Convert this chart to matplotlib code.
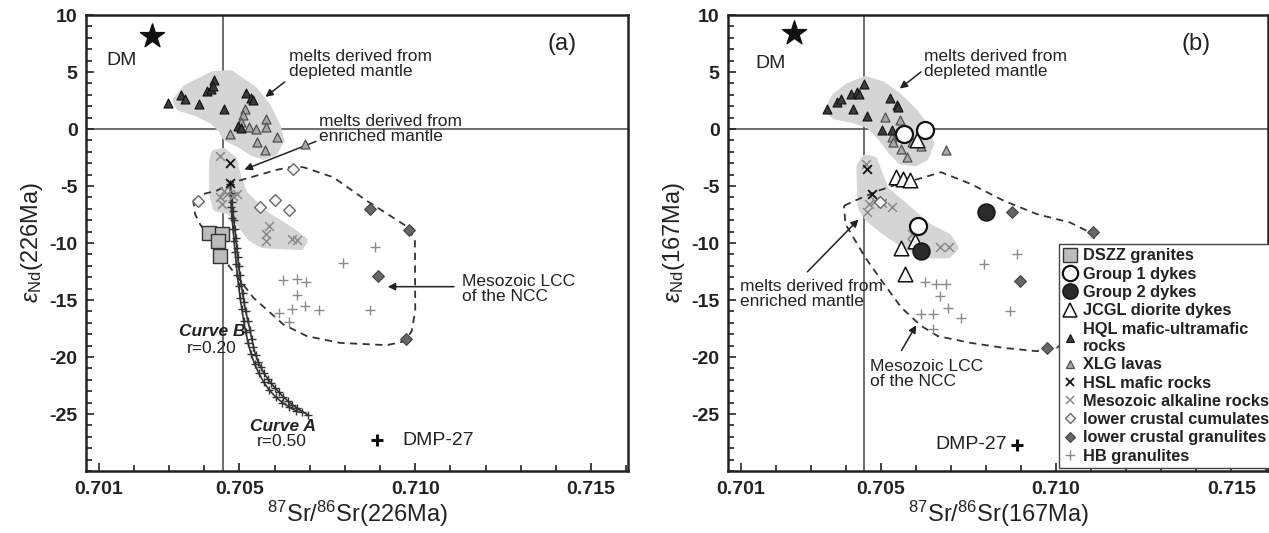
import numpy as np
import matplotlib.pyplot as plt
from matplotlib.patches import Polygon
from matplotlib.lines import Line2D
from matplotlib.ticker import MultipleLocator, FixedLocator, FormatStrFormatter

plt.rcParams['font.family'] = ['Liberation Sans', 'DejaVu Sans']
plt.rcParams['mathtext.fontset'] = 'custom'
plt.rcParams['mathtext.rm'] = 'Liberation Sans'
plt.rcParams['mathtext.it'] = 'Liberation Sans:italic'
plt.rcParams['mathtext.bf'] = 'Liberation Sans:bold'
plt.rcParams['axes.unicode_minus'] = False

# ---------------- panel (a): 226 Ma ----------------
a_dm = (0.70251, 8.15)
a_hql_x = [0.70298, 0.70334, 0.70346, 0.70386, 0.70407, 0.70419, 0.70429, 0.70424,
           0.70456, 0.70518, 0.70532, 0.70540, 0.70497, 0.70504]
a_hql_y = [2.28, 2.96, 2.60, 2.17, 3.34, 3.55, 4.28, 3.80,
           1.73, 3.20, 2.76, 2.58, 0.23, 0.08]
a_xlg_x = [0.70516, 0.70510, 0.70504, 0.70526, 0.70548, 0.70575, 0.70575, 0.70474,
           0.70550, 0.70573, 0.70606, 0.70687]
a_xlg_y = [1.79, 1.20, 0.60, 0.17, 0.03, 0.85, 0.17, -0.41,
           -1.15, -1.88, -0.71, -1.29]
a_hsl_x = [0.70472, 0.70474]
a_hsl_y = [-3.0, -4.76]
a_alk_x = [0.70446, 0.70455, 0.70445, 0.70450, 0.70464, 0.70483, 0.70493,
           0.70583, 0.70576, 0.70576, 0.70649, 0.70663]
a_alk_y = [-2.41, -5.40, -6.00, -6.58, -5.70, -5.85, -5.70,
           -8.49, -9.22, -9.80, -9.66, -9.74]
a_cum_x = [0.70652, 0.70381, 0.70559, 0.70602, 0.70641]
a_cum_y = [-3.50, -6.29, -6.87, -6.20, -7.08]
a_gra_x = [0.70870, 0.70981, 0.70894, 0.70974]
a_gra_y = [-7.02, -8.87, -12.89, -18.46]
a_hb_x = [0.70886, 0.70796, 0.70623, 0.70663, 0.70690, 0.70665, 0.70649, 0.70687,
          0.70725, 0.70614, 0.70642, 0.70870]
a_hb_y = [-10.33, -11.71, -13.27, -13.18, -13.39, -14.56, -15.82, -15.53,
          -15.88, -16.12, -16.91, -15.91]
a_dszz_x = [0.70415, 0.70450, 0.70440, 0.70445]
a_dszz_y = [-9.13, -9.22, -9.81, -11.13]
a_dmp = (0.70891, -27.32)

# mixing curves
curveA_x = [0.70474, 0.70476, 0.70478, 0.70481, 0.70484, 0.70487, 0.70490, 0.70493,
            0.70495, 0.70498, 0.70501, 0.70505, 0.70509, 0.70513, 0.70518, 0.70524,
            0.70530, 0.70535, 0.70540, 0.70546, 0.70553, 0.70561, 0.70570, 0.70580,
            0.70590, 0.70601, 0.70613, 0.70625, 0.70638, 0.70651, 0.70665, 0.70679,
            0.70694]
curveA_y = [-4.8, -5.6, -6.4, -7.2, -8.0, -8.8, -9.6, -10.4,
            -11.2, -12.0, -12.8, -13.6, -14.4, -15.2, -16.0, -16.8,
            -17.6, -18.4, -19.1, -19.8, -20.4, -20.9, -21.4, -21.9,
            -22.3, -22.7, -23.1, -23.5, -23.85, -24.2, -24.5, -24.78,
            -25.05]
curveB_x = [0.70474, 0.70475, 0.70477, 0.70479, 0.70482, 0.70485, 0.70488, 0.70491,
            0.70494, 0.70498, 0.70502, 0.70507, 0.70512, 0.70518, 0.70525, 0.70533,
            0.70543, 0.70555, 0.70569, 0.70585, 0.70603, 0.70622, 0.70642, 0.70662]
curveB_y = [-4.8, -5.8, -6.8, -7.8, -8.8, -9.8, -10.8, -11.8,
            -12.8, -13.8, -14.8, -15.8, -16.8, -17.8, -18.8, -19.7,
            -20.6, -21.4, -22.2, -22.9, -23.5, -24.0, -24.4, -24.75]

# field outlines
a_dep_x = [0.70322, 0.70350, 0.70426, 0.70474, 0.70540, 0.70578, 0.70606, 0.70616,
           0.70597, 0.70568, 0.70540, 0.70502, 0.70464, 0.70450, 0.70426, 0.70379, 0.70331]
a_dep_y = [2.52, 3.55, 4.72, 4.80, 3.40, 1.93, 0.17, -1.00,
           -2.03, -2.32, -2.03, -1.29, -0.71, 0.03, 0.76, 1.49, 1.93]
a_enr_x = [0.70431, 0.70454, 0.70483, 0.70493, 0.70511, 0.70568, 0.70644, 0.70682,
           0.70673, 0.70568, 0.70535, 0.70502, 0.70474, 0.70436, 0.70426, 0.70426]
a_enr_y = [-2.17, -2.03, -2.76, -4.23, -5.70, -7.46, -8.93, -9.81,
           -10.25, -10.10, -9.52, -8.20, -7.17, -6.87, -5.70, -2.76]
a_lcc_x = [0.70369, 0.70398, 0.70436, 0.70483, 0.70550, 0.70606, 0.70652, 0.70682,
           0.70767, 0.70862, 0.70981, 0.70999, 0.71000, 0.70990, 0.70971, 0.70919,
           0.70786, 0.70692, 0.70625, 0.70540, 0.70474, 0.70431, 0.70388, 0.70374, 0.70369]
a_lcc_y = [-6.29, -5.70, -5.40, -4.67, -4.08, -3.58, -3.29, -3.35,
           -4.23, -6.29, -8.64, -9.80, -15.97, -17.73, -18.61, -18.96,
           -18.76, -18.17, -17.14, -14.80, -12.16, -10.25, -8.34, -7.46, -6.29]

# ---------------- panel (b): 167 Ma ----------------
b_dm = (0.70253, 8.39)
b_hql_x = [0.70347, 0.70376, 0.70385, 0.70414, 0.70432, 0.70439, 0.70451, 0.70420,
           0.70460, 0.70527, 0.70545, 0.70550, 0.70503, 0.70531]
b_hql_y = [1.79, 2.37, 2.67, 3.11, 3.25, 3.11, 3.93, 1.79,
           1.11, 2.76, 2.08, 1.93, -0.12, -0.12]
b_xlg_x = [0.70512, 0.70555, 0.70531, 0.70536, 0.70558, 0.70576, 0.70588, 0.70616, 0.70686]
b_xlg_y = [1.05, 0.76, -0.71, -1.15, -1.73, -2.47, -1.15, -1.53, -1.88]
b_g1_x = [0.70567, 0.70627, 0.70606]
b_g1_y = [-0.41, -0.12, -8.49]
b_g2_x = [0.70616, 0.70800]
b_g2_y = [-10.69, -7.32]
b_jcgl_x = [0.70602, 0.70544, 0.70564, 0.70583, 0.70559, 0.70597, 0.70569]
b_jcgl_y = [-1.00, -4.23, -4.37, -4.46, -10.40, -9.81, -12.74]
b_hsl_x = [0.70460, 0.70475]
b_hsl_y = [-3.50, -5.70]
b_alk_x = [0.70459, 0.70465, 0.70460, 0.70484, 0.70503, 0.70533, 0.70588, 0.70588,
           0.70668, 0.70696]
b_alk_y = [-3.05, -6.58, -7.32, -6.29, -6.52, -6.87, -9.22, -9.96,
           -10.33, -10.39]
b_cum_x = [0.70498]
b_cum_y = [-6.43]
b_gra_x = [0.70875, 0.71107, 0.70897, 0.70974]
b_gra_y = [-7.32, -9.07, -13.33, -19.20]
b_hb_x = [0.70625, 0.70658, 0.70686, 0.70670, 0.70691, 0.70616, 0.70649, 0.70649,
          0.70729, 0.70795, 0.70889, 0.70870]
b_hb_y = [-13.39, -13.62, -13.62, -14.65, -15.68, -16.26, -16.26, -17.58,
          -16.56, -11.86, -10.98, -15.97]
b_dmp = (0.70889, -27.70)

b_dep_x = [0.70352, 0.70371, 0.70409, 0.70456, 0.70503, 0.70550, 0.70597, 0.70625,
           0.70640, 0.70625, 0.70597, 0.70559, 0.70531, 0.70503, 0.70465, 0.70418, 0.70371]
b_dep_y = [1.64, 2.81, 3.69, 4.28, 3.84, 2.81, 1.35, 0.17,
           -1.29, -2.47, -2.91, -2.76, -1.88, -0.71, 0.47, 0.91, 1.20]
b_enr_x = [0.70456, 0.70479, 0.70493, 0.70512, 0.70569, 0.70635, 0.70691, 0.70710,
           0.70691, 0.70625, 0.70569, 0.70512, 0.70465, 0.70446, 0.70442]
b_enr_y = [-2.61, -2.76, -3.93, -5.40, -6.87, -8.64, -9.52, -10.40,
           -10.98, -10.98, -10.10, -8.93, -7.76, -6.87, -3.35]
b_lcc_x = [0.70395, 0.70437, 0.70494, 0.70550, 0.70607, 0.70672, 0.70757, 0.70851,
           0.70945, 0.71040, 0.71107, 0.71115, 0.71100, 0.71002, 0.70974, 0.70946,
           0.70851, 0.70757, 0.70663, 0.70616, 0.70559, 0.70503, 0.70456, 0.70399, 0.70395]
b_lcc_y = [-6.73, -6.14, -5.40, -4.82, -4.38, -3.79, -4.82, -6.29,
           -7.46, -8.20, -9.22, -11.57, -16.85, -19.20, -19.20, -19.49,
           -19.20, -18.76, -18.17, -17.29, -15.68, -13.33, -11.28, -8.34, -6.73]

bse_sr = 0.70452
legend_labels = ['DSZZ granites', 'Group 1 dykes', 'Group 2 dykes', 'JCGL diorite dykes',
                 'HQL mafic-ultramafic\nrocks', 'XLG lavas', 'HSL mafic rocks',
                 'Mesozoic alkaline rocks', 'lower crustal cumulates',
                 'lower crustal granulites', 'HB granulites']

# marker styles per rock group
ST = {
    'dszz': dict(marker='s', s=110, c='#bcbcbc', edgecolors='#333333', linewidths=1.0),
    'g1':   dict(marker='o', s=150, c='white', edgecolors='#111111', linewidths=1.6),
    'g2':   dict(marker='o', s=150, c='#2a2a2a', edgecolors='#111111', linewidths=1.0),
    'jcgl': dict(marker='^', s=110, c='white', edgecolors='#111111', linewidths=1.1),
    'hql':  dict(marker='^', s=42, c='#3c3c3c', edgecolors='#111111', linewidths=0.8),
    'xlg':  dict(marker='^', s=42, c='#a8a8a8', edgecolors='#505050', linewidths=0.9),
    'hsl':  dict(marker='x', s=40, c='#111111', linewidths=1.3),
    'alk':  dict(marker='x', s=40, c='#8a8a8a', linewidths=1.1),
    'cum':  dict(marker='D', s=36, c='#f2f2f2', edgecolors='#6a6a6a', linewidths=1.0),
    'gra':  dict(marker='D', s=36, c='#666666', edgecolors='#444444', linewidths=0.8),
    'hb':   dict(marker='+', s=55, c='#8a8a8a', linewidths=1.0),
}
GREY = '#d5d5d5'
TXT = '#222222'


def field(ax, xs, ys):
    ax.add_patch(Polygon(np.column_stack([xs, ys]), closed=True, fc=GREY, ec=GREY,
                         lw=6, joinstyle='round', zorder=1))


def setup(ax, age):
    ax.set_xlim(0.70064, 0.71605)
    ax.set_ylim(-30, 10)
    ax.xaxis.set_major_locator(FixedLocator([0.701, 0.705, 0.710, 0.715]))
    ax.xaxis.set_major_formatter(FormatStrFormatter('%.3f'))
    ax.xaxis.set_minor_locator(MultipleLocator(0.001))
    ax.yaxis.set_major_locator(FixedLocator([-25, -20, -15, -10, -5, 0, 5, 10]))
    ax.yaxis.set_minor_locator(MultipleLocator(1))
    ax.tick_params(which='both', direction='in', top=False, right=False, width=1.2,
                   color='#222222')
    ax.tick_params(which='major', length=6, labelsize=14)
    ax.tick_params(which='minor', length=4)
    ax.tick_params(axis='x', pad=7)
    ax.tick_params(axis='y', pad=6)
    for lab in ax.get_xticklabels() + ax.get_yticklabels():
        lab.set_fontweight('bold')
        lab.set_color('#222222')
    for sp in ax.spines.values():
        sp.set_linewidth(1.8)
        sp.set_color('#222222')
    ax.axvline(bse_sr, color='#555555', lw=1.2, zorder=0.5)
    ax.axhline(0, color='#555555', lw=1.2, zorder=0.5)
    ax.set_xlabel(r'$^{87}$Sr/$^{86}$Sr(' + age + ')', fontsize=17, labelpad=1, color='#222222')
    ax.set_ylabel(r'$\varepsilon_{\rm Nd}$(' + age + ')', fontsize=17, labelpad=3,
                  color='#222222')


fig = plt.figure(figsize=(12.69, 5.33), dpi=100)
axa = fig.add_axes([0.0678, 0.1163, 0.4271, 0.8555])
axb = fig.add_axes([0.5737, 0.1163, 0.4255, 0.8555])

# ---- (a)
setup(axa, '226Ma')
field(axa, a_dep_x, a_dep_y)
field(axa, a_enr_x, a_enr_y)
axa.plot(a_lcc_x, a_lcc_y, color='#333333', lw=1.3, ls=(0, (4, 3)), zorder=2)
axa.plot(curveB_x, curveB_y, color='#333333', lw=1.2, marker='+', ms=6, mew=1.0, zorder=3)
axa.plot(curveA_x, curveA_y, color='#333333', lw=1.2, marker='+', ms=6, mew=1.0, zorder=3)
axa.scatter(a_hb_x, a_hb_y, zorder=4, **ST['hb'])
axa.scatter(a_alk_x, a_alk_y, zorder=4, **ST['alk'])
axa.scatter(a_cum_x, a_cum_y, zorder=4, **ST['cum'])
axa.scatter(a_gra_x, a_gra_y, zorder=4, **ST['gra'])
axa.scatter(a_xlg_x, a_xlg_y, zorder=4, **ST['xlg'])
axa.scatter(a_hql_x, a_hql_y, zorder=5, **ST['hql'])
axa.scatter(a_hsl_x, a_hsl_y, zorder=5, **ST['hsl'])
axa.scatter(a_dszz_x, a_dszz_y, zorder=6, **ST['dszz'])
axa.scatter(*a_dm, marker='*', s=330, c='#111111', zorder=6)
axa.text(0.70121, 6.0, 'DM', fontsize=14, va='center', color=TXT)
axa.scatter(*a_dmp, marker='+', s=70, c='#111111', linewidths=2.2, zorder=6)
axa.text(0.70962, -27.32, 'DMP-27', fontsize=14, va='center', color=TXT)
axa.text(0.71417, 7.5, '(a)', fontsize=17, ha='center', va='center', color=TXT)
axa.text(0.7064, 5.7, 'melts derived from\ndepleted mantle', fontsize=12.5,
         va='center', linespacing=1.0, color=TXT)
axa.annotate('', xy=(0.70568, 2.67), xytext=(0.70635, 4.28),
             arrowprops=dict(arrowstyle='-|>', color='#222222', lw=1.1, mutation_scale=11))
axa.text(0.70725, -0.03, 'melts derived from\nenriched mantle', fontsize=12.5,
         va='center', linespacing=1.0, color=TXT)
axa.annotate('', xy=(0.70507, -3.64), xytext=(0.70725, -1.0),
             arrowprops=dict(arrowstyle='-|>', color='#222222', lw=1.1, mutation_scale=11))
axa.text(0.71134, -14.0, 'Mesozoic LCC\nof the NCC', fontsize=12.5,
         va='center', linespacing=1.0, color=TXT)
axa.annotate('', xy=(0.70914, -13.83), xytext=(0.71118, -13.83),
             arrowprops=dict(arrowstyle='-|>', color='#222222', lw=1.1, mutation_scale=11))
axa.text(0.70424, -17.79, 'Curve B', fontsize=12.5, ha='center', va='center',
         fontweight='bold', fontstyle='italic', color=TXT)
axa.text(0.70421, -19.25, 'r=0.20', fontsize=12.5, ha='center', va='center', color=TXT)
axa.text(0.70623, -26.1, 'Curve A', fontsize=12.5, ha='center', va='center',
         fontweight='bold', fontstyle='italic', color=TXT)
axa.text(0.7062, -27.4, 'r=0.50', fontsize=12.5, ha='center', va='center', color=TXT)

# ---- (b)
setup(axb, '167Ma')
field(axb, b_dep_x, b_dep_y)
field(axb, b_enr_x, b_enr_y)
axb.plot(b_lcc_x, b_lcc_y, color='#333333', lw=1.3, ls=(0, (4, 3)), zorder=2)
axb.scatter(b_hb_x, b_hb_y, zorder=4, **ST['hb'])
axb.scatter(b_alk_x, b_alk_y, zorder=4, **ST['alk'])
axb.scatter(b_cum_x, b_cum_y, zorder=4, **ST['cum'])
axb.scatter(b_gra_x, b_gra_y, zorder=4, **ST['gra'])
axb.scatter(b_xlg_x, b_xlg_y, zorder=4, **ST['xlg'])
axb.scatter(b_hql_x, b_hql_y, zorder=5, **ST['hql'])
axb.scatter(b_hsl_x, b_hsl_y, zorder=5, **ST['hsl'])
axb.scatter(b_jcgl_x, b_jcgl_y, zorder=6, **ST['jcgl'])
axb.scatter(b_g1_x, b_g1_y, zorder=6, **ST['g1'])
axb.scatter(b_g2_x, b_g2_y, zorder=6, **ST['g2'])
axb.scatter(*b_dm, marker='*', s=330, c='#111111', zorder=6)
axb.text(0.70141, 5.75, 'DM', fontsize=14, va='center', color=TXT)
axb.scatter(*b_dmp, marker='+', s=70, c='#111111', linewidths=2.2, zorder=6)
axb.text(0.70655, -27.7, 'DMP-27', fontsize=14, va='center', color=TXT)
axb.text(0.71401, 7.5, '(b)', fontsize=17, ha='center', va='center', color=TXT)
axb.text(0.70623, 5.7, 'melts derived from\ndepleted mantle', fontsize=12.5,
         va='center', linespacing=1.0, color=TXT)
axb.annotate('', xy=(0.70548, 3.4), xytext=(0.70621, 5.16),
             arrowprops=dict(arrowstyle='-|>', color='#222222', lw=1.1, mutation_scale=11))
axb.text(0.70098, -14.45, 'melts derived from\nenriched mantle', fontsize=12.5,
         va='center', linespacing=1.0, color=TXT)
axb.annotate('', xy=(0.70442, -7.76), xytext=(0.70285, -12.7),
             arrowprops=dict(arrowstyle='-|>', color='#222222', lw=1.1, mutation_scale=11))
axb.text(0.7047, -21.5, 'Mesozoic LCC\nof the NCC', fontsize=12.5,
         va='center', linespacing=1.0, color=TXT)
axb.annotate('', xy=(0.70605, -17.0), xytext=(0.70555, -19.64),
             arrowprops=dict(arrowstyle='-|>', color='#222222', lw=1.1, mutation_scale=11))

order = ['dszz', 'g1', 'g2', 'jcgl', 'hql', 'xlg', 'hsl', 'alk', 'cum', 'gra', 'hb']
handles = []
for key in order:
    st = ST[key]
    handles.append(Line2D([], [], ls='none', marker=st['marker'], ms=np.sqrt(st['s']) * 0.9,
                          mfc=st['c'], mec=st.get('edgecolors', st['c']),
                          mew=st['linewidths']))
leg = axb.legend(handles, legend_labels, loc='upper left', bbox_to_anchor=(0.613, 0.497),
                 borderaxespad=0, frameon=True, fancybox=False, framealpha=1,
                 edgecolor='#444444', prop=dict(size=11.8, weight='bold'),
                 handlelength=0.9, handletextpad=0.3, labelspacing=0.2,
                 borderpad=0.25)
leg.get_frame().set_linewidth(1.0)
leg.set_zorder(10)
for t in leg.get_texts():
    t.set_color(TXT)

fig.savefig('out.png', dpi=100)
